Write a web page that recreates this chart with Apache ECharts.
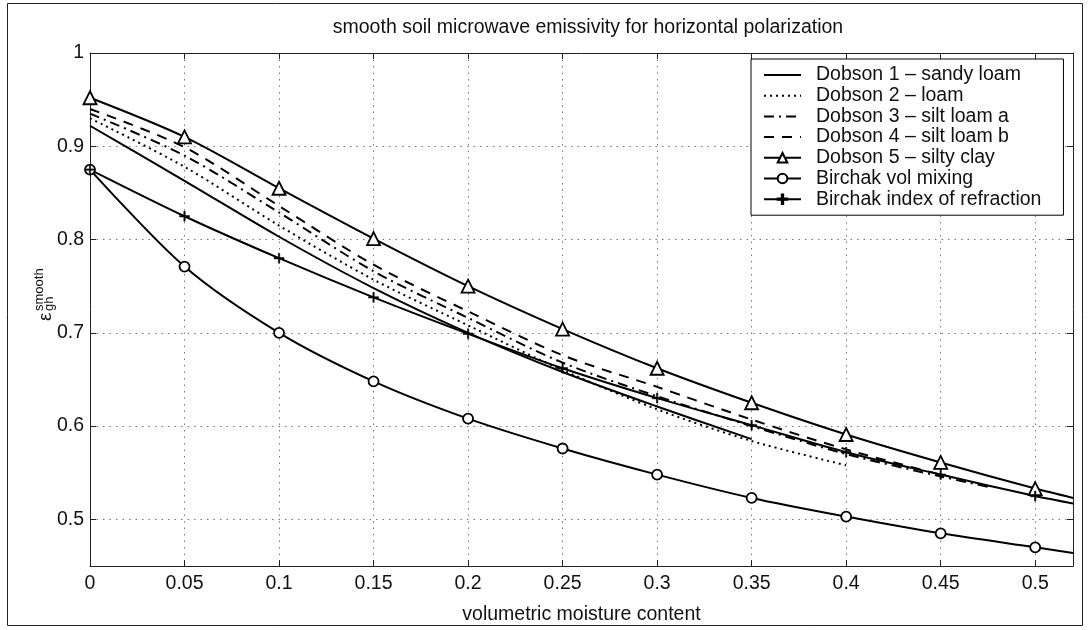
<!DOCTYPE html>
<html><head><meta charset="utf-8">
<script src="https://cdn.jsdelivr.net/npm/echarts@6/dist/echarts.min.js"></script>
<style>html,body{margin:0;padding:0;background:#fff}#c{width:1090px;height:630px}</style>
</head><body><div id="c"></div><script>
// ---- data ----
const titleText = 'smooth soil microwave emissivity for horizontal polarization';
const xAxisName = 'volumetric moisture content';
const xTickValues = [0, 0.05, 0.1, 0.15, 0.2, 0.25, 0.3, 0.35, 0.4, 0.45, 0.5];
const yTickValues = [0.5, 0.6, 0.7, 0.8, 0.9, 1];

const seriesNames = ['Dobson 1 \u2013 sandy loam', 'Dobson 2 \u2013 loam', 'Dobson 3 \u2013 silt loam a',
  'Dobson 4 \u2013 silt loam b', 'Dobson 5 \u2013 silty clay', 'Birchak vol mixing', 'Birchak index of refraction'];

const dobson1X = [0, 0.05, 0.1, 0.15, 0.2, 0.25, 0.3, 0.35];
const dobson1Y = [0.922, 0.863, 0.803, 0.748, 0.700, 0.658, 0.621, 0.586];
const dobson2X = [0, 0.05, 0.1, 0.15, 0.2, 0.25, 0.3, 0.35, 0.4];
const dobson2Y = [0.930, 0.878, 0.815, 0.757, 0.708, 0.660, 0.618, 0.584, 0.558];
const dobson3X = [0, 0.05, 0.1, 0.15, 0.2, 0.25, 0.3, 0.35, 0.4, 0.45, 0.475];
const dobson3Y = [0.935, 0.890, 0.829, 0.766, 0.716, 0.668, 0.632, 0.600, 0.570, 0.546, 0.535];
const dobson4X = [0, 0.05, 0.1, 0.15, 0.2, 0.25, 0.3, 0.35, 0.4, 0.45];
const dobson4Y = [0.940, 0.899, 0.836, 0.773, 0.723, 0.676, 0.642, 0.607, 0.575, 0.548];
const dobson5X = [0, 0.05, 0.1, 0.15, 0.2, 0.25, 0.3, 0.35, 0.4, 0.45, 0.5, 0.52];
const dobson5Y = [0.952, 0.910, 0.855, 0.801, 0.750, 0.704, 0.662, 0.625, 0.591, 0.561, 0.533, 0.523];
const birchakVolX = [0, 0.05, 0.1, 0.15, 0.2, 0.25, 0.3, 0.35, 0.4, 0.45, 0.5, 0.52];
const birchakVolY = [0.875, 0.771, 0.700, 0.648, 0.608, 0.576, 0.548, 0.523, 0.503, 0.485, 0.470, 0.464];
const birchakIdxX = [0, 0.05, 0.1, 0.15, 0.2, 0.25, 0.3, 0.35, 0.4, 0.45, 0.5, 0.52];
const birchakIdxY = [0.875, 0.825, 0.780, 0.738, 0.699, 0.662, 0.630, 0.601, 0.572, 0.548, 0.525, 0.517];

// ---- rendering ----
const FONT = 'Liberation Sans, Arial, Helvetica, sans-serif';
const FS = 19.5;
const chart = echarts.init(document.getElementById('c'), null, {renderer: 'canvas'});

function pts(xs, ys) {
  return xs.map((x, i) => {
    const o = {value: [x, ys[i]]};
    if (i === xs.length - 1 && Math.abs(x / 0.05 - Math.round(x / 0.05)) > 1e-6) o.symbol = 'none';
    return o;
  });
}
const plusPath = 'path://M-0.7,-5h1.4v4.3h4.3v1.4h-4.3v4.3h-1.4v-4.3h-4.3v-1.4h4.3z';

function lineSeries(name, xs, ys, dash, symbol, symbolSize) {
  let itemStyle;
  if (!symbol) itemStyle = {color: 'rgba(0,0,0,0)', borderColor: 'rgba(0,0,0,0)', borderWidth: 0};
  else if (symbol === plusPath) itemStyle = {color: '#000', borderColor: '#000', borderWidth: 0.5};
  else itemStyle = {color: '#fff', borderColor: '#000', borderWidth: 1.8};
  return {
    name, type: 'line', data: pts(xs, ys), smooth: 0.3,
    symbol: symbol || 'none', symbolSize: symbolSize || 10, showSymbol: !!symbol,
    lineStyle: {color: '#000', width: 2, type: dash},
    itemStyle,
    emphasis: {disabled: true}, animation: false, z: 3
  };
}

const series = [
  lineSeries(seriesNames[0], dobson1X, dobson1Y, 'solid'),
  lineSeries(seriesNames[1], dobson2X, dobson2Y, [2, 4]),
  lineSeries(seriesNames[2], dobson3X, dobson3Y, [10, 5, 2, 5]),
  lineSeries(seriesNames[3], dobson4X, dobson4Y, [10, 8]),
  lineSeries(seriesNames[4], dobson5X, dobson5Y, 'solid', 'triangle', 13),
  lineSeries(seriesNames[5], birchakVolX, birchakVolY, 'solid', 'circle', 10),
  lineSeries(seriesNames[6], birchakIdxX, birchakIdxY, 'solid', plusPath, 10)
];

const gridLine = {show: true, lineStyle: {color: '#777', width: 1, type: [1.5, 5]}};
const axisLine = {show: true, onZero: false, lineStyle: {color: '#222', width: 1}};
const tick = {show: true, inside: true, length: 6, lineStyle: {color: '#222'}};

chart.setOption({
  animation: false,
  backgroundColor: '#fff',
  title: {text: titleText, left: 583, top: 13, textAlign: 'center',
    textStyle: {fontFamily: FONT, fontSize: FS, fontWeight: 'normal', color: '#111'}},
  grid: {left: 90, right: 17, top: 53, bottom: 63, containLabel: false},
  legend: {
    orient: 'vertical', left: 751, top: 59, padding: [6, 22, 6, 12],
    itemWidth: 37, itemHeight: 12, itemGap: 0.7,
    backgroundColor: '#fff', borderColor: '#000', borderWidth: 1,
    textStyle: {fontFamily: FONT, fontSize: FS, color: '#111', lineHeight: 20, padding: [0, 0, 0, 10]},
    selectedMode: false, data: seriesNames
  },
  xAxis: [{
    type: 'value', min: 0, max: 0.52, position: 'bottom',
    name: xAxisName, nameLocation: 'middle', nameGap: 39,
    nameTextStyle: {fontFamily: FONT, fontSize: FS, color: '#111'},
    axisLine, axisTick: Object.assign({customValues: xTickValues}, tick),
    axisLabel: {customValues: xTickValues, fontFamily: FONT, fontSize: FS, color: '#111', margin: 8,
      formatter: v => String(+v.toFixed(2))},
    splitLine: gridLine
  }, {
    type: 'value', min: 0, max: 0.52, position: 'top',
    axisLine, axisTick: Object.assign({customValues: xTickValues}, tick),
    axisLabel: {show: false}, splitLine: {show: false}
  }],
  yAxis: [{
    type: 'value', min: 0.45, max: 1, position: 'left',
    axisLine, axisTick: Object.assign({customValues: yTickValues}, tick),
    axisLabel: {customValues: yTickValues, fontFamily: FONT, fontSize: FS, color: '#111', margin: 6,
      formatter: v => String(+v.toFixed(2))},
    splitLine: gridLine
  }, {
    type: 'value', min: 0.45, max: 1, position: 'right',
    axisLine, axisTick: Object.assign({customValues: yTickValues}, tick),
    axisLabel: {show: false}, splitLine: {show: false}
  }],
  graphic: [
    {type: 'rect', shape: {x: 7.5, y: 3.5, width: 1075, height: 622}, style: {fill: 'none', stroke: '#222', lineWidth: 1}, silent: true, z: 0},
    {type: 'group', x: 46, y: 321, rotation: Math.PI / 2, children: [
      {type: 'text', x: 0, y: 0, style: {text: '\u03b5', font: '19px ' + FONT, fill: '#111', textVerticalAlign: 'middle'}},
      {type: 'text', x: 10, y: -7, style: {text: 'smooth', font: '13px ' + FONT, fill: '#111', textVerticalAlign: 'middle'}},
      {type: 'text', x: 10, y: 3, style: {text: 'gh', font: '13px ' + FONT, fill: '#111', textVerticalAlign: 'middle'}}
    ]}
  ],
  series
});
</script></body></html>
